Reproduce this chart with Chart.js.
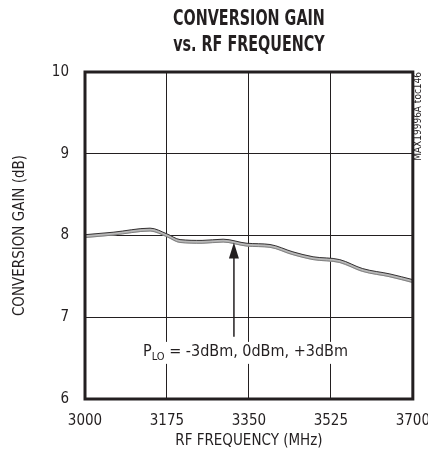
<!DOCTYPE html>
<html>
<head>
<meta charset="utf-8">
<script src="https://cdn.jsdelivr.net/npm/chart.js@4.4.1/dist/chart.umd.min.js"></script>
<style>
  html, body { margin: 0; padding: 0; background: #fff; }
  #wrap { width: 428px; height: 460px; }
</style>
</head>
<body>
<div id="wrap"><canvas id="gainChart" width="428" height="460"></canvas></div>
<script>
// RF frequency points (MHz)
const freq = [3000, 3060, 3139, 3175, 3203, 3250, 3295, 3346, 3395, 3444, 3487, 3544, 3593, 3651, 3700];
// conversion gain (dB) for PLO = -3, 0, +3 dBm
const gainM3 = [7.99, 8.02, 8.07, 8.00, 7.93, 7.92, 7.935, 7.885, 7.87, 7.78, 7.72, 7.685, 7.575, 7.51, 7.44];
const gain0  = [7.975, 8.005, 8.055, 7.985, 7.915, 7.905, 7.92, 7.87, 7.855, 7.765, 7.705, 7.67, 7.56, 7.495, 7.425];
const gainP3 = [8.01, 8.04, 8.09, 8.02, 7.95, 7.94, 7.955, 7.905, 7.89, 7.8, 7.74, 7.705, 7.595, 7.53, 7.46];
const xTicks = [3000, 3175, 3350, 3525, 3700];
const yTicks = [6, 7, 8, 9, 10];
const titleLines = ['CONVERSION GAIN', 'vs. RF FREQUENCY'];
// where the arrow points
const arrowFreq = 3318, arrowTop = 7.915, arrowBottom = 6.76;

const cond = "'DejaVu Sans Condensed', 'Liberation Sans', Arial, sans-serif";
const ink = '#231f20';

const pts = (ys) => freq.map((f, i) => ({ x: f, y: ys[i] }));

// title over plot, frame, arrow, note and part number
const extras = {
  id: 'extras',
  afterDraw(chart) {
    const { ctx, chartArea: a, scales: { x, y } } = chart;
    ctx.save();
    const cx = (a.left + a.right) / 2;
    ctx.fillStyle = ink;
    ctx.textAlign = 'center';
    ctx.textBaseline = 'middle';
    // squeezed bold title, like the narrow type of the original
    ctx.save();
    ctx.translate(cx, 0);
    ctx.scale(0.76, 1);
    ctx.font = 'bold 21px ' + cond;
    ctx.fillText(titleLines[0], 0, 20);
    ctx.fillText(titleLines[1], 0, 46);
    ctx.restore();

    ctx.strokeStyle = ink;
    ctx.lineWidth = 3;
    ctx.strokeRect(a.left, a.top, a.right - a.left, a.bottom - a.top);

    // arrow
    const ax = x.getPixelForValue(arrowFreq);
    const top = y.getPixelForValue(arrowTop);
    const bot = y.getPixelForValue(arrowBottom);
    ctx.lineWidth = 1.5;
    ctx.beginPath();
    ctx.moveTo(ax, bot);
    ctx.lineTo(ax, top + 12);
    ctx.stroke();
    ctx.beginPath();
    ctx.moveTo(ax, top);
    ctx.lineTo(ax - 5, top + 16);
    ctx.lineTo(ax + 5, top + 16);
    ctx.closePath();
    ctx.fill();

    // note text, white box behind
    const ny = bot + 15;
    const p = 'P', lo = 'LO', rest = ' = -3dBm, 0dBm, +3dBm';
    ctx.font = '11px ' + cond;
    const loW = ctx.measureText(lo).width;
    ctx.font = '16px ' + cond;
    const pW = ctx.measureText(p).width;
    const rW = ctx.measureText(rest).width;
    const nx = 143;
    ctx.fillStyle = '#fff';
    ctx.fillRect(nx - 2, ny - 10, pW + loW + rW + 4, 22);
    ctx.fillStyle = ink;
    ctx.textAlign = 'left';
    ctx.fillText(p, nx, ny);
    ctx.font = '11px ' + cond;
    ctx.fillText(lo, nx + pW, ny + 5);
    ctx.font = '16px ' + cond;
    ctx.fillText(rest, nx + pW + loW, ny);

    // part number on right edge
    ctx.translate(a.right + 6, a.top);
    ctx.rotate(-Math.PI / 2);
    ctx.font = '10px ' + cond;
    ctx.textAlign = 'right';
    ctx.fillText('MAX19996A toc146', 0, 0);
    ctx.restore();
  }
};

new Chart(document.getElementById('gainChart'), {
  type: 'line',
  data: {
    // first dataset is drawn on top
    datasets: [
      { label: 'PLO = +3dBm', data: pts(gainP3), borderColor: ink, borderWidth: 0.9 },
      { label: 'PLO = 0dBm', data: pts(gain0), borderColor: '#7a7a7a', borderWidth: 0.9 },
      { label: 'PLO = -3dBm', data: pts(gainM3), borderColor: '#b8b8b8', borderWidth: 3.4 }
    ].map(d => Object.assign(d, { pointRadius: 0, tension: 0.4, cubicInterpolationMode: 'monotone', fill: false }))
  },
  options: {
    responsive: false,
    animation: false,
    layout: { padding: { left: 0, right: 0, top: 72, bottom: 4 } },
    plugins: {
      legend: { display: false },
      tooltip: { enabled: false },
      title: { display: false }
    },
    scales: {
      x: {
        type: 'linear',
        min: 3000, max: 3700,
        afterBuildTicks: (s) => { s.ticks = xTicks.map(v => ({ value: v })); },
        ticks: { color: ink, font: { family: cond, size: 15, lineHeight: 3.2 }, padding: -2, maxRotation: 0, callback: (v) => String(v) },
        grid: { color: ink, lineWidth: 1, drawTicks: false },
        border: { display: false },
        title: { display: true, text: 'RF FREQUENCY (MHz)', color: ink, font: { family: cond, size: 15 }, padding: { top: 4, bottom: 6 } },
        afterFit: (s) => { s.height = 57; }
      },
      y: {
        min: 6, max: 10,
        afterBuildTicks: (s) => { s.ticks = yTicks.map(v => ({ value: v })); },
        ticks: { color: ink, font: { family: cond, size: 15 }, padding: 16, callback: (v) => String(v) },
        grid: { color: ink, lineWidth: 1, drawTicks: false },
        border: { display: false },
        title: { display: true, text: 'CONVERSION GAIN (dB)', color: ink, font: { family: cond, size: 15 }, padding: { top: 11, bottom: 0 } },
        afterFit: (s) => { s.width = 85; }
      }
    }
  },
  plugins: [extras]
});
</script>
</body>
</html>
